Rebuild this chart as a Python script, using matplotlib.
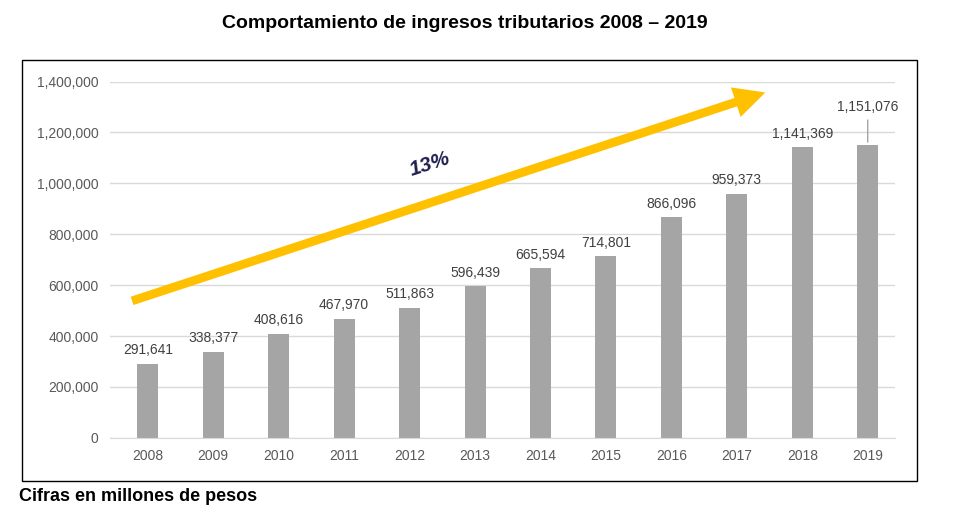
import matplotlib
matplotlib.use('Agg')
import matplotlib.pyplot as plt
from matplotlib.patches import Rectangle

years = ['2008', '2009', '2010', '2011', '2012', '2013', '2014', '2015', '2016', '2017', '2018', '2019']
ingresos = [291641, 338377, 408616, 467970, 511863, 596439, 665594, 714801, 866096, 959373, 1141369, 1151076]

plt.rcParams['font.family'] = ['Liberation Sans', 'DejaVu Sans']
fig = plt.figure(figsize=(9.72, 5.30), dpi=100)
fig.add_artist(Rectangle((0.0226, 0.0925), 0.921, 0.794, transform=fig.transFigure,
                         fill=False, edgecolor='black', lw=1))
ax = fig.add_axes([0.113, 0.174, 0.808, 0.672])

x = range(len(years))
ax.bar(x, ingresos, width=0.32, color='#a5a5a5', zorder=2)
for i, v in enumerate(ingresos):
    if i == len(ingresos) - 1:
        ax.annotate(f'{v:,}', (i, v), xytext=(i, v + 120000), ha='center', va='bottom',
                    fontsize=10, color='#404040',
                    arrowprops=dict(arrowstyle='-', color='#a5a5a5', lw=1))
    else:
        ax.text(i, v + 25000, f'{v:,}', ha='center', va='bottom', fontsize=10, color='#404040')

ax.set_xlim(-0.58, 11.42)
ax.set_ylim(0, 1400000)
ax.set_yticks(range(0, 1400001, 200000))
ax.yaxis.set_major_formatter(matplotlib.ticker.FuncFormatter(lambda v, p: f'{int(v):,}'))
ax.set_xticks(list(x))
ax.set_xticklabels(years)
ax.grid(axis='y', color='#d9d9d9', lw=1, zorder=0)
for s in ['top', 'right', 'left']:
    ax.spines[s].set_visible(False)
ax.spines['bottom'].set_color('#d9d9d9')
ax.tick_params(length=0, labelsize=10, colors='#595959', pad=8)

ax.annotate('', xy=(0.838, 0.972), xytext=(0.025, 0.382), xycoords='axes fraction',
            arrowprops=dict(arrowstyle='simple,head_length=1.6,head_width=1.6,tail_width=0.45',
                            color='#ffc000', lw=0, mutation_scale=14))
ax.text(0.408, 0.767, '13%', transform=ax.transAxes, rotation=18, fontsize=15,
        fontweight='bold', fontstyle='italic', color='#1f1f4f', ha='center', va='center')

fig.text(0.478, 0.955, 'Comportamiento de ingresos tributarios 2008 – 2019', ha='center',
         va='center', fontsize=14, fontweight='bold')
fig.text(0.02, 0.064, 'Cifras en millones de pesos', ha='left', va='center',
         fontsize=13, fontweight='bold')

fig.savefig('out.png', dpi=100)
